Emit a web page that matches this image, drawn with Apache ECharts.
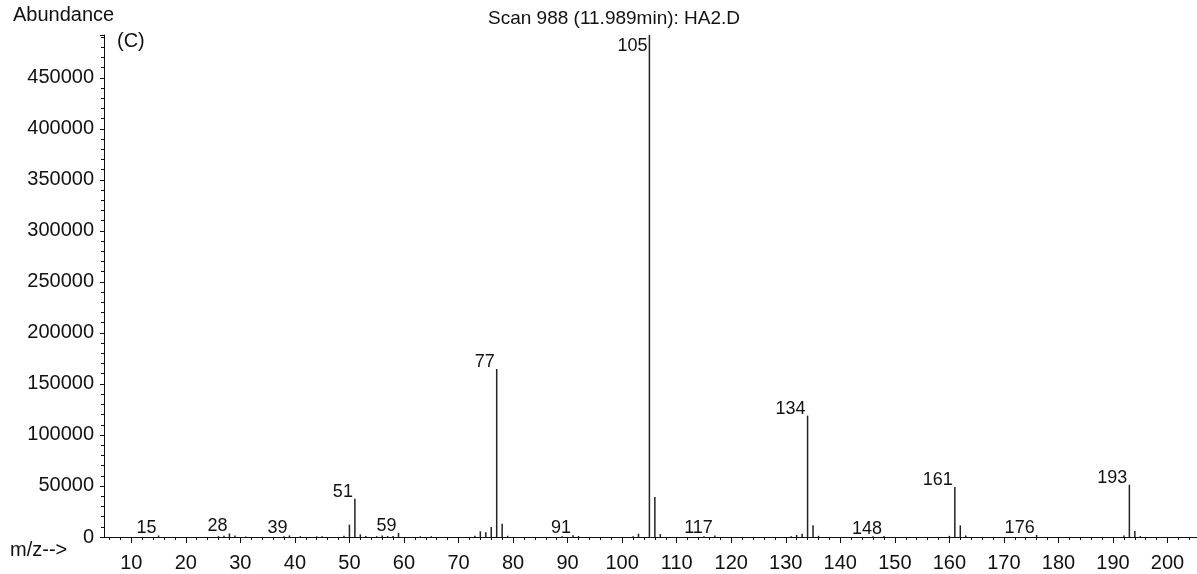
<!DOCTYPE html>
<html>
<head>
<meta charset="utf-8">
<title>Scan 988</title>
<script src="https://cdn.jsdelivr.net/npm/echarts@6/dist/echarts.min.js"></script>
<style>
    html,body{margin:0;padding:0;background:#fff;}
    #eChart{width:1197px;height:574px;}
</style>
</head>
<body>
<div id="eChart"></div>
<script>
// m/z 值
var mzList=[15,26,27,28,29,31,38,39,41,44,45,49,50,51,52,53,55,56,57,58,59,63,65,
    73,74,75,76,77,78,79,89,91,92,102,103,105,106,107,115,117,
    131,132,133,134,135,136,146,148,160,161,162,163,176,192,193,194,195];
// 丰度
var abundanceList=[1500,800,1200,3500,1500,600,800,1500,800,600,700,1200,12100,37500,2600,1000,800,1500,1000,1000,3900,700,800,
    1200,5600,4600,9800,164600,13100,1200,800,1800,1000,800,3300,492000,39100,2900,800,1500,
    800,2000,3300,119000,11400,1200,700,1000,1200,48900,11400,1500,2000,1500,51200,5900,800];
// 标注的峰
var labelPeaks=[15,28,39,51,59,77,91,105,117,134,148,161,176,193];
// 刻度
var xLabelTicks=[10,20,30,40,50,60,70,80,90,100,110,120,130,140,150,160,170,180,190,200];
var xMinorTicks=[];
for(var t=6;t<=204;t+=2){
    if(t%10!==0){xMinorTicks.push(t);}
}

function $each(arr,fn){
    for(var i=0;i<arr.length;i++){fn(i,arr[i]);}
}

var font='"Liberation Sans", Arial, sans-serif';
var stickData=[];
$each(mzList,function(i,mz){
    stickData.push([mz,abundanceList[i]]);
});
var labelData=[];
$each(labelPeaks,function(i,mz){
    var y=abundanceList[mzList.indexOf(mz)];
    var item={value:[mz,y]};
    // 最高峰的标签放在顶端下方
    if(mz===105){
        item.label={offset:[0,11]};
    }
    labelData.push(item);
});

var myChart=echarts.init(document.getElementById('eChart'));
var option={
    animation:false,
    backgroundColor:'#fff',
    title:{
        text:'Scan 988 (11.989min): HA2.D',
        left:488,
        top:9,
        padding:0,
        textStyle:{fontFamily:font,fontSize:19,fontWeight:'normal',color:'#111'}
    },
    graphic:[
        {type:'text',left:13,top:5,style:{text:'Abundance',font:'20px '+font,fill:'#111'}},
        {type:'text',left:117,top:31,style:{text:'(C)',font:'20px '+font,fill:'#111'}},
        {type:'text',left:10,top:540,style:{text:'m/z-->',font:'20px '+font,fill:'#111'}}
    ],
    grid:{left:104,right:0,top:35,bottom:37,containLabel:false},
    xAxis:[
        {
            type:'value',
            min:5,
            max:205.4,
            splitLine:{show:false},
            axisLine:{show:true,onZero:false,lineStyle:{color:'#111',width:1}},
            axisTick:{show:true,length:6,customValues:xLabelTicks,lineStyle:{color:'#111'}},
            axisLabel:{customValues:xLabelTicks,fontFamily:font,fontSize:20,color:'#111',margin:16}
        },
        {
            type:'value',
            min:5,
            max:205.4,
            position:'bottom',
            splitLine:{show:false},
            axisLine:{show:false},
            axisTick:{show:true,length:3,customValues:xMinorTicks,lineStyle:{color:'#111'}},
            axisLabel:{show:false}
        }
    ],
    yAxis:{
        type:'value',
        min:0,
        max:492000,
        interval:50000,
        splitLine:{show:false},
        axisLine:{show:true,lineStyle:{color:'#111',width:1}},
        axisTick:{show:true,length:4,lineStyle:{color:'#111'}},
        minorTick:{show:true,splitNumber:5,length:3,lineStyle:{color:'#111'}},
        axisLabel:{
            fontFamily:font,fontSize:20,color:'#111',margin:10,
            showMaxLabel:false,
            formatter:function(v){return String(v);}
        }
    },
    series:[
        {
            type:'custom',
            xAxisIndex:0,
            data:stickData,
            encode:{x:0,y:1},
            renderItem:function(params,api){
                var p0=api.coord([api.value(0),0]);
                var p1=api.coord([api.value(0),api.value(1)]);
                return {
                    type:'line',
                    shape:{x1:p0[0],y1:p0[1],x2:p1[0],y2:p1[1]},
                    style:{stroke:'#222',lineWidth:1.5}
                };
            }
        },
        {
            type:'scatter',
            xAxisIndex:0,
            symbolSize:0,
            itemStyle:{opacity:1},
            data:labelData,
            label:{
                show:true,
                position:'left',
                distance:2,
                offset:[0,-7],
                fontFamily:font,
                fontSize:18,
                color:'#111',
                opacity:1,
                formatter:function(p){return p.value[0];}
            }
        }
    ]
};
myChart.setOption(option);
</script>
</body>
</html>
